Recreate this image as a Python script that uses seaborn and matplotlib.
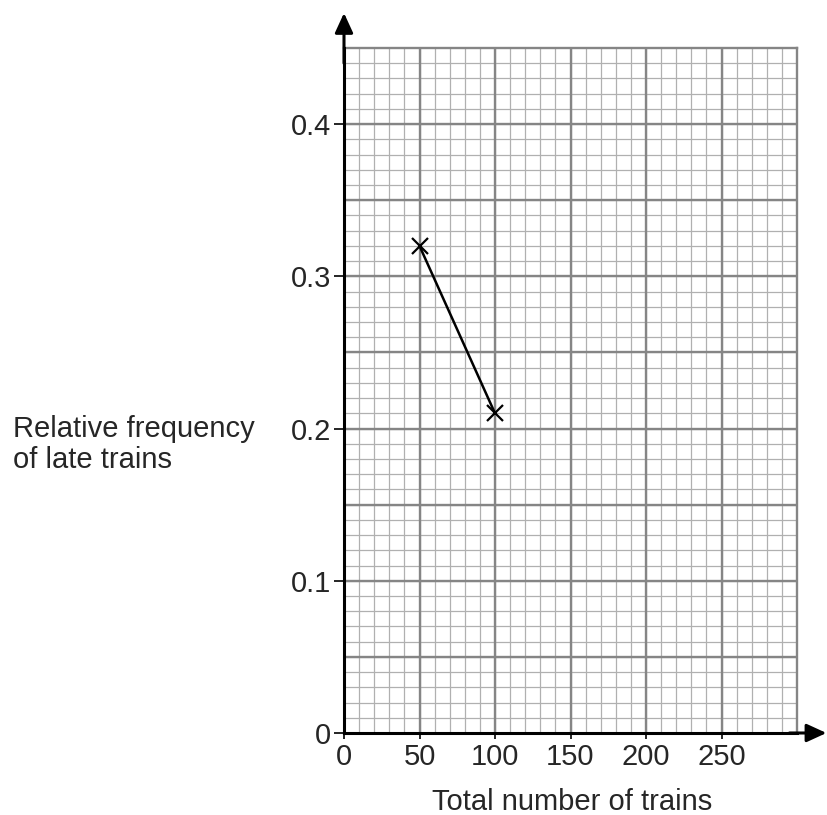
import numpy as np
import pandas as pd
import matplotlib
matplotlib.use("Agg")
import matplotlib.pyplot as plt
import seaborn as sns

# plotted points
total_trains = [50, 100]
rel_freq = [0.32, 0.21]

x_ticks = [0, 50, 100, 150, 200, 250]
y_ticks = [0, 0.1, 0.2, 0.3, 0.4]
y_tick_labels = ["0", "0.1", "0.2", "0.3", "0.4"]

df = pd.DataFrame({"Total number of trains": total_trains,
                   "Relative frequency": rel_freq})

sns.set_style("white")
plt.rcParams["font.family"] = ["Liberation Sans", "DejaVu Sans"]

fig = plt.figure(figsize=(8.27, 8.15), dpi=100)
ax = fig.add_axes([344 / 827, 82 / 815, (797 - 344) / 827, (733 - 48) / 815])
ax.set_xlim(0, 300)
ax.set_ylim(0, 0.45)

# graph paper: fine lines, then the heavier 50 / 0.05 lines
minor_col = "#b0b0b0"
major_col = "#858585"
for xv in np.arange(10, 300, 10):
    ax.axvline(xv, color=minor_col, lw=0.9, zorder=0)
for yv in np.arange(0.01, 0.45, 0.01):
    ax.axhline(yv, color=minor_col, lw=0.9, zorder=0)
for xv in np.arange(50, 300, 50):
    ax.axvline(xv, color=major_col, lw=1.7, zorder=0.5)
for yv in np.arange(0.05, 0.45, 0.05):
    ax.axhline(yv, color=major_col, lw=1.7, zorder=0.5)

sns.lineplot(data=df, x="Total number of trains", y="Relative frequency",
             ax=ax, color="black", lw=1.8, marker="x", markersize=11,
             markeredgewidth=1.6, markeredgecolor="black", zorder=3)

for side in ["top", "right"]:
    ax.spines[side].set_color(major_col)
    ax.spines[side].set_linewidth(1.7)
for side in ["left", "bottom"]:
    ax.spines[side].set_color("black")
    ax.spines[side].set_linewidth(2.2)
    ax.spines[side].set_zorder(4)

ax.set_xticks(x_ticks)
ax.set_xticklabels([str(v) for v in x_ticks])
ax.set_yticks(y_ticks)
ax.set_yticklabels(y_tick_labels)
ax.tick_params(axis="both", which="major", labelsize=21, color="black",
               width=1.2, direction="out")
ax.tick_params(axis="x", length=4.5, pad=3)
ax.tick_params(axis="y", length=7, pad=2)
ax.xaxis.set_ticks_position("bottom")
ax.yaxis.set_ticks_position("left")
ax.set_xlabel("")
ax.set_ylabel("")

# axis arrows running past the paper
head = "-|>,head_length=1.2,head_width=0.55"
ax.annotate("", xy=(0, 0.473), xytext=(0, 0.44),
            xycoords="data", annotation_clip=False,
            arrowprops=dict(arrowstyle=head, color="black", lw=2.2,
                            shrinkA=0, shrinkB=0))
ax.annotate("", xy=(319.5, 0), xytext=(295, 0),
            xycoords="data", annotation_clip=False,
            arrowprops=dict(arrowstyle=head, color="black", lw=2.2,
                            shrinkA=0, shrinkB=0))

fig.text(432 / 827, 1 - 810 / 815, "Total number of trains", fontsize=21,
         ha="left", va="baseline")
fig.text(13 / 827, 1 - 437 / 815, "Relative frequency", fontsize=21,
         ha="left", va="baseline")
fig.text(13 / 827, 1 - 468 / 815, "of late trains", fontsize=21,
         ha="left", va="baseline")

fig.savefig("out.png", dpi=100)
